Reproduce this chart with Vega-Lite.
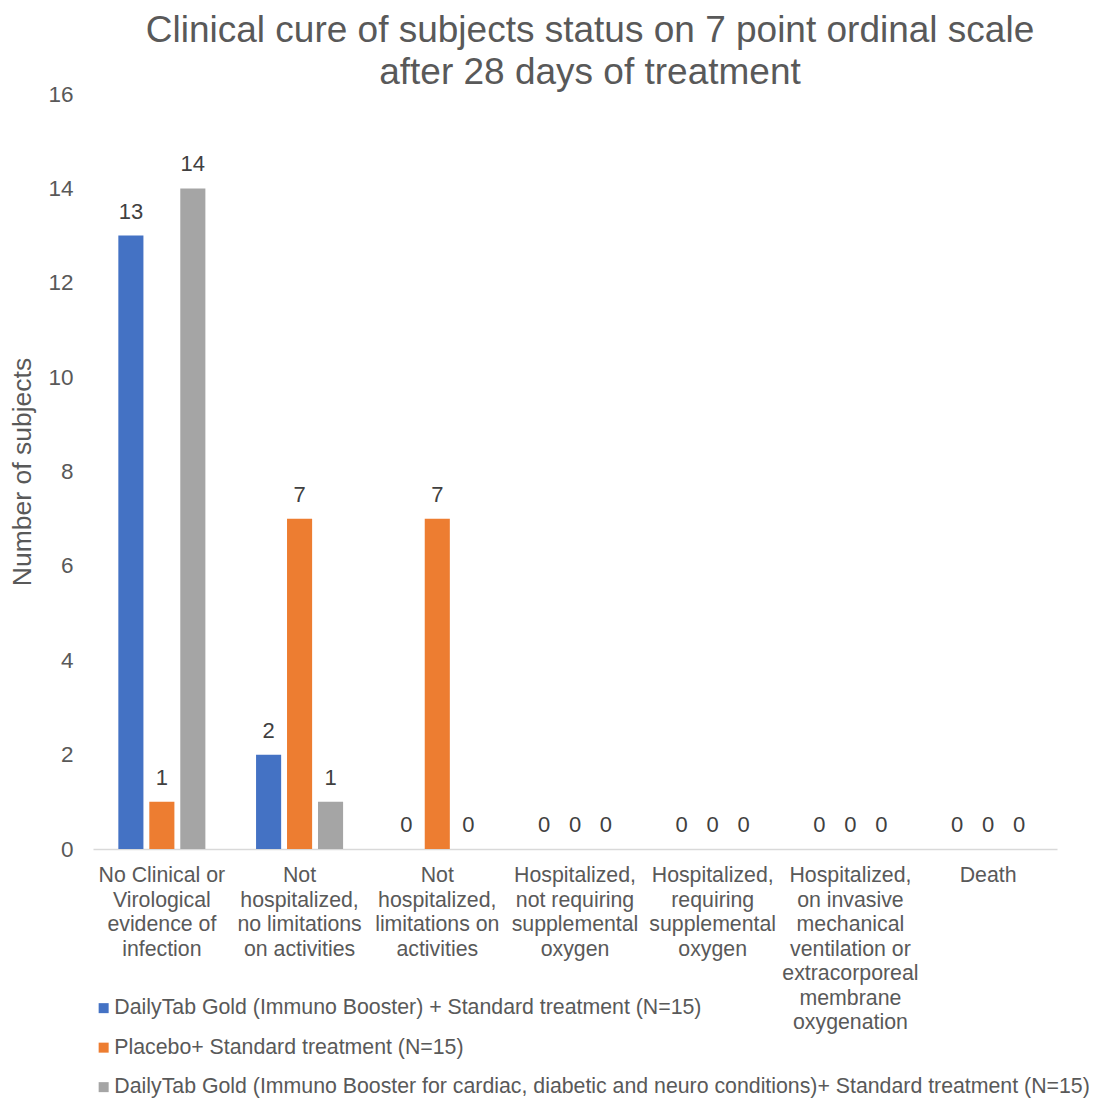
{
  "$schema": "https://vega.github.io/schema/vega-lite/v6.json",
  "width": 964,
  "height": 755,
  "autosize": {"type": "none"},
  "padding": {"left": 93, "top": 94, "right": 38, "bottom": 249},
  "background": "white",
  "config": {
    "font": "Liberation Sans",
    "view": {"stroke": null}
  },
  "title": {
    "text": ["Clinical cure of subjects status on 7 point ordinal scale", "after 28 days of treatment"],
    "fontSize": 37,
    "fontWeight": "normal",
    "color": "#595959",
    "lineHeight": 42,
    "anchor": "middle",
    "frame": "group",
    "dx": 15,
    "offset": -9
  },
  "data": {
    "values": [
      {"cat": "No Clinical or|Virological|evidence of|infection", "series": "DailyTab Gold (Immuno Booster) + Standard treatment (N=15)", "value": 13},
      {"cat": "No Clinical or|Virological|evidence of|infection", "series": "Placebo+ Standard treatment (N=15)", "value": 1},
      {"cat": "No Clinical or|Virological|evidence of|infection", "series": "DailyTab Gold (Immuno Booster for cardiac, diabetic and neuro conditions)+ Standard treatment (N=15)", "value": 14},
      {"cat": "Not|hospitalized,|no limitations|on activities", "series": "DailyTab Gold (Immuno Booster) + Standard treatment (N=15)", "value": 2},
      {"cat": "Not|hospitalized,|no limitations|on activities", "series": "Placebo+ Standard treatment (N=15)", "value": 7},
      {"cat": "Not|hospitalized,|no limitations|on activities", "series": "DailyTab Gold (Immuno Booster for cardiac, diabetic and neuro conditions)+ Standard treatment (N=15)", "value": 1},
      {"cat": "Not|hospitalized,|limitations on|activities", "series": "DailyTab Gold (Immuno Booster) + Standard treatment (N=15)", "value": 0},
      {"cat": "Not|hospitalized,|limitations on|activities", "series": "Placebo+ Standard treatment (N=15)", "value": 7},
      {"cat": "Not|hospitalized,|limitations on|activities", "series": "DailyTab Gold (Immuno Booster for cardiac, diabetic and neuro conditions)+ Standard treatment (N=15)", "value": 0},
      {"cat": "Hospitalized,|not requiring|supplemental|oxygen", "series": "DailyTab Gold (Immuno Booster) + Standard treatment (N=15)", "value": 0},
      {"cat": "Hospitalized,|not requiring|supplemental|oxygen", "series": "Placebo+ Standard treatment (N=15)", "value": 0},
      {"cat": "Hospitalized,|not requiring|supplemental|oxygen", "series": "DailyTab Gold (Immuno Booster for cardiac, diabetic and neuro conditions)+ Standard treatment (N=15)", "value": 0},
      {"cat": "Hospitalized,|requiring|supplemental|oxygen", "series": "DailyTab Gold (Immuno Booster) + Standard treatment (N=15)", "value": 0},
      {"cat": "Hospitalized,|requiring|supplemental|oxygen", "series": "Placebo+ Standard treatment (N=15)", "value": 0},
      {"cat": "Hospitalized,|requiring|supplemental|oxygen", "series": "DailyTab Gold (Immuno Booster for cardiac, diabetic and neuro conditions)+ Standard treatment (N=15)", "value": 0},
      {"cat": "Hospitalized,|on invasive|mechanical|ventilation or|extracorporeal|membrane|oxygenation", "series": "DailyTab Gold (Immuno Booster) + Standard treatment (N=15)", "value": 0},
      {"cat": "Hospitalized,|on invasive|mechanical|ventilation or|extracorporeal|membrane|oxygenation", "series": "Placebo+ Standard treatment (N=15)", "value": 0},
      {"cat": "Hospitalized,|on invasive|mechanical|ventilation or|extracorporeal|membrane|oxygenation", "series": "DailyTab Gold (Immuno Booster for cardiac, diabetic and neuro conditions)+ Standard treatment (N=15)", "value": 0},
      {"cat": "Death", "series": "DailyTab Gold (Immuno Booster) + Standard treatment (N=15)", "value": 0},
      {"cat": "Death", "series": "Placebo+ Standard treatment (N=15)", "value": 0},
      {"cat": "Death", "series": "DailyTab Gold (Immuno Booster for cardiac, diabetic and neuro conditions)+ Standard treatment (N=15)", "value": 0}
    ]
  },
  "encoding": {
    "x": {
      "field": "cat",
      "type": "nominal",
      "sort": null,
      "scale": {"paddingInner": 0.368, "paddingOuter": 0.184},
      "axis": {
        "title": null,
        "labelExpr": "split(datum.label, '|')",
        "labelAngle": 0,
        "labelFontSize": 21.3,
        "labelColor": "#595959",
        "labelLineHeight": 24.5,
        "labelPadding": 15.5,
        "labelBaseline": "top",
        "labelLimit": 200,
        "ticks": false,
        "domainColor": "#D9D9D9",
        "domainWidth": 1.5
      }
    },
    "xOffset": {
      "field": "series",
      "type": "nominal",
      "sort": ["DailyTab Gold (Immuno Booster) + Standard treatment (N=15)", "Placebo+ Standard treatment (N=15)", "DailyTab Gold (Immuno Booster for cardiac, diabetic and neuro conditions)+ Standard treatment (N=15)"],
      "scale": {"paddingInner": 0.19, "paddingOuter": 0}
    },
    "y": {
      "field": "value",
      "type": "quantitative",
      "scale": {"domain": [0, 16]},
      "axis": {
        "title": "Number of subjects",
        "titleFontSize": 26.5,
        "titleFontWeight": "normal",
        "titleColor": "#595959",
        "titlePadding": 11,
        "values": [0, 2, 4, 6, 8, 10, 12, 14, 16],
        "labelFontSize": 22.5,
        "labelColor": "#595959",
        "labelPadding": 20,
        "ticks": false,
        "domain": false,
        "grid": false
      }
    }
  },
  "layer": [
    {
      "mark": {"type": "bar"},
      "encoding": {
        "color": {
          "field": "series",
          "type": "nominal",
          "sort": ["DailyTab Gold (Immuno Booster) + Standard treatment (N=15)", "Placebo+ Standard treatment (N=15)", "DailyTab Gold (Immuno Booster for cardiac, diabetic and neuro conditions)+ Standard treatment (N=15)"],
          "scale": {
            "domain": ["DailyTab Gold (Immuno Booster) + Standard treatment (N=15)", "Placebo+ Standard treatment (N=15)", "DailyTab Gold (Immuno Booster for cardiac, diabetic and neuro conditions)+ Standard treatment (N=15)"],
            "range": ["#4472C4", "#ED7D31", "#A5A5A5"]
          },
          "legend": {
            "title": null,
            "orient": "none",
            "legendX": 0,
            "legendY": 903.5,
            "direction": "vertical",
            "symbolType": "square",
            "symbolSize": 100,
            "labelFontSize": 21.3,
            "labelColor": "#595959",
            "labelLimit": 1100,
            "rowPadding": 17.5,
            "labelOffset": 0
          }
        }
      }
    },
    {
      "mark": {"type": "text", "baseline": "bottom", "dy": -12, "fontSize": 22, "color": "#404040"},
      "encoding": {
        "text": {"field": "value", "type": "quantitative"}
      }
    }
  ]
}
